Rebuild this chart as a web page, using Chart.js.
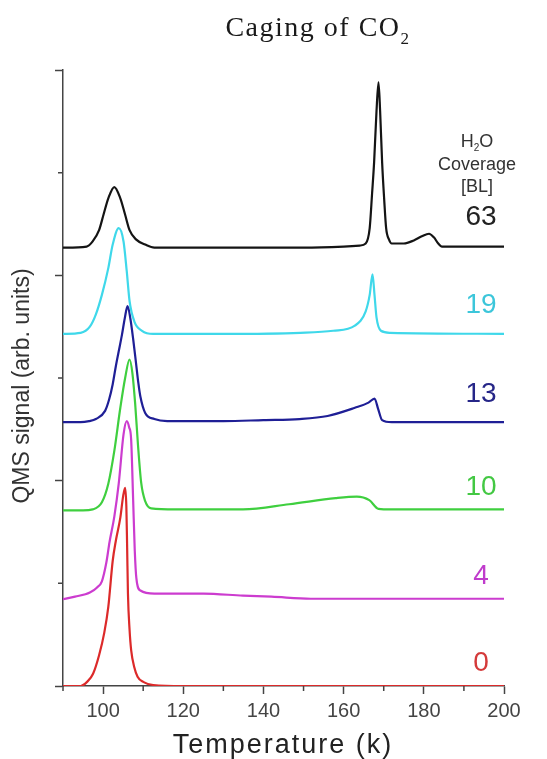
<!DOCTYPE html>
<html>
<head>
<meta charset="utf-8">
<title>Caging of CO2</title>
<script src="https://cdn.jsdelivr.net/npm/chart.js@4.4.1/dist/chart.umd.min.js"></script>
<style>
  html, body { margin: 0; padding: 0; background: #fff; }
  #wrap { position: relative; width: 547px; height: 759px; }
</style>
</head>
<body>
<div id="wrap"><canvas id="tpd" width="547" height="759"></canvas></div>
<script>
// ─── DATA ────────────────────────────────────────────────
// TPD traces of CO2 under a water overlayer, offset vertically per coverage
const coverages = ['63', '19', '13', '10', '4', '0'];
const xTickLabels = [100, 120, 140, 160, 180, 200];

const temps63  = [90, 95.9, 97.4, 99, 100.1, 101.3, 102.8, 104.3, 105.5, 106.6, 108.2, 110.5, 112.8, 130, 150, 160, 164, 165.5, 166.5, 167.1, 167.6, 168.2, 168.7, 169.1, 169.6, 170.1, 170.6, 171.3, 172, 175, 177.5, 179.5, 181.3, 182.5, 183.6, 184.5, 200];
const signal63 = [4.27, 4.28, 4.33, 4.44, 4.59, 4.75, 4.86, 4.75, 4.59, 4.44, 4.35, 4.30, 4.27, 4.27, 4.27, 4.28, 4.29, 4.31, 4.46, 4.80, 5.10, 5.60, 5.88, 5.60, 5.10, 4.75, 4.46, 4.35, 4.31, 4.31, 4.34, 4.38, 4.405, 4.37, 4.31, 4.28, 4.28];

const temps19  = [90, 94.4, 96.7, 98.2, 99.7, 101.3, 102.4, 103.9, 105.1, 105.9, 106.6, 107.8, 109.7, 112.5, 130, 149.2, 157.4, 162.8, 165.5, 166.5, 167.2, 167.7, 168.2, 169.3, 171.6, 200];
const signal19 = [3.43, 3.44, 3.50, 3.62, 3.81, 4.07, 4.30, 4.46, 4.33, 4.04, 3.75, 3.55, 3.46, 3.43, 3.43, 3.44, 3.46, 3.51, 3.65, 3.81, 4.01, 3.81, 3.59, 3.46, 3.44, 3.43];

const temps13  = [90, 94.4, 96.5, 98.2, 100.5, 101.5, 102.4, 103.2, 103.9, 104.7, 105.4, 106.1, 106.8, 107.5, 108.2, 108.8, 109.3, 110.5, 112.8, 116, 130, 140, 149, 156, 162.8, 166.2, 167.7, 168.6, 169.6, 172, 200];
const signal13 = [2.57, 2.57, 2.58, 2.60, 2.68, 2.79, 2.94, 3.12, 3.26, 3.42, 3.58, 3.70, 3.58, 3.38, 3.15, 2.95, 2.82, 2.66, 2.60, 2.58, 2.58, 2.59, 2.60, 2.63, 2.71, 2.76, 2.80, 2.70, 2.59, 2.57, 2.57];

const temps10  = [90, 95, 97.4, 99.7, 101.3, 102.8, 104.3, 105.5, 106.6, 107.3, 108, 108.7, 109.5, 110.5, 112, 118, 134.9, 146.4, 158, 163.3, 166.4, 168.7, 171.8, 200];
const signal10 = [1.71, 1.71, 1.72, 1.79, 1.97, 2.29, 2.71, 3.00, 3.18, 3.05, 2.75, 2.35, 1.98, 1.80, 1.73, 1.72, 1.72, 1.77, 1.83, 1.845, 1.81, 1.725, 1.72, 1.72];

const temps4   = [90, 93, 96.7, 98.5, 99.7, 100.8, 101.6, 102.8, 103.9, 105.1, 105.9, 106.5, 107, 107.5, 107.9, 108.3, 109.3, 112.8, 125, 134.9, 142, 151.8, 200];
const signal4  = [0.845, 0.87, 0.91, 0.96, 1.02, 1.20, 1.40, 1.65, 1.97, 2.45, 2.58, 2.52, 2.40, 1.81, 1.32, 1.05, 0.93, 0.90, 0.90, 0.88, 0.87, 0.85, 0.85];

const temps0   = [90, 94.4, 96, 97.5, 99, 100.3, 101.3, 102.4, 103.2, 104.3, 105, 105.5, 105.8, 106, 106.2, 106.6, 107, 107.8, 108.6, 110, 112.5, 120, 200];
const signal0  = [0, 0, 0.04, 0.12, 0.30, 0.52, 0.77, 1.22, 1.42, 1.64, 1.85, 1.93, 1.75, 1.35, 0.90, 0.55, 0.35, 0.18, 0.09, 0.04, 0.01, 0, 0];

// ─── STYLE ───────────────────────────────────────────────
const lineColors  = ['#141414', '#3fd8ea', '#1f1f96', '#3fcf3f', '#cc3ccf', '#dc2a2a'];
const labelColors = ['#222222', '#3cc6da', '#262688', '#43c843', '#c03ccc', '#d43a3a'];
const labelLift   = [22, 21, 20, 14, 15, 15];
const SANS  = '"Liberation Sans", Arial, sans-serif';
const SERIF = '"Liberation Serif", "Times New Roman", serif';
const AXIS  = '#444';

// ─── UTILS ───────────────────────────────────────────────
function toPoints(t, s) {
  return t.map((x, i) => ({ x, y: s[i] }));
}

// text drawn piece by piece so a subscript can sit below the baseline
function drawParts(ctx, parts, cx, y) {
  let w = 0;
  parts.forEach(p => { ctx.font = p.font; w += ctx.measureText(p.text).width; });
  let x = cx - w / 2;
  parts.forEach(p => {
    ctx.font = p.font;
    ctx.fillText(p.text, x, y + (p.dy || 0));
    x += ctx.measureText(p.text).width;
  });
}

const traces = [
  [temps63, signal63], [temps19, signal19], [temps13, signal13],
  [temps10, signal10], [temps4, signal4], [temps0, signal0]
];

// ─── LABELS + MINOR TICKS ────────────────────────────────
const tpdText = {
  id: 'tpdText',
  afterDraw(chart) {
    const { ctx, chartArea: a, scales: { x, y } } = chart;
    ctx.save();

    // short minor ticks
    ctx.strokeStyle = AXIS;
    ctx.lineWidth = 1.5;
    ctx.beginPath();
    for (let v = 90; v <= 200; v += 20) {
      const px = x.getPixelForValue(v);
      ctx.moveTo(px, a.bottom); ctx.lineTo(px, a.bottom + 5);
    }
    for (let v = 1; v <= 5; v += 2) {
      const py = y.getPixelForValue(v);
      ctx.moveTo(a.left - 5, py); ctx.lineTo(a.left, py);
    }
    ctx.stroke();

    ctx.textAlign = 'left';
    ctx.textBaseline = 'alphabetic';

    // title
    ctx.fillStyle = '#1a1a1a';
    ctx.letterSpacing = '1.5px';
    drawParts(ctx, [
      { text: 'Caging of CO', font: `28px ${SERIF}` },
      { text: '2', font: `17px ${SERIF}`, dy: 8 }
    ], 318, 36);

    // axis titles
    ctx.fillStyle = '#222';
    ctx.letterSpacing = '2px';
    drawParts(ctx, [{ text: 'Temperature (k)', font: `27px ${SANS}` }], 283, 753);

    ctx.save();
    ctx.translate(21, 386);
    ctx.rotate(-Math.PI / 2);
    ctx.letterSpacing = '0px';
    ctx.fillStyle = '#333';
    drawParts(ctx, [{ text: 'QMS signal (arb. units)', font: `23px ${SANS}` }], 0, 8);
    ctx.restore();

    // coverage labels at the right end of each trace
    ctx.letterSpacing = '0px';
    const labelX = 481;
    let top63 = 0;
    coverages.forEach((c, i) => {
      const s = traces[i][1];
      const by = y.getPixelForValue(s[s.length - 1]) - labelLift[i];
      if (i === 0) top63 = by;
      ctx.fillStyle = labelColors[i];
      drawParts(ctx, [{ text: c, font: `28px ${SANS}` }], labelX, by);
    });

    ctx.fillStyle = '#333';
    drawParts(ctx, [
      { text: 'H', font: `18px ${SANS}` },
      { text: '2', font: `10px ${SANS}`, dy: 4 },
      { text: 'O', font: `18px ${SANS}` }
    ], 477, top63 - 78);
    drawParts(ctx, [{ text: 'Coverage', font: `18px ${SANS}` }], 477, top63 - 55);
    drawParts(ctx, [{ text: '[BL]', font: `18px ${SANS}` }], 477, top63 - 33);

    ctx.restore();
  }
};

// ─── CHART ───────────────────────────────────────────────
new Chart(document.getElementById('tpd'), {
  type: 'line',
  data: {
    datasets: traces.map(([t, s], i) => ({
      label: coverages[i],
      data: toPoints(t, s),
      borderColor: lineColors[i],
      borderWidth: 2.2,
      pointRadius: 0,
      cubicInterpolationMode: 'monotone',
      fill: false
    }))
  },
  options: {
    responsive: false,
    animation: false,
    devicePixelRatio: 1,
    layout: { padding: { top: 70, right: 43, left: 0, bottom: 0 } },
    plugins: { legend: { display: false }, tooltip: { enabled: false } },
    scales: {
      x: {
        type: 'linear',
        min: 90,
        max: 200,
        border: { color: AXIS, width: 1.5 },
        grid: {
          drawOnChartArea: false,
          tickLength: 8,
          tickWidth: 1.5,
          tickColor: c => (c.tick && c.tick.value % 20 === 0) ? AXIS : 'rgba(0,0,0,0)'
        },
        ticks: {
          stepSize: 10,
          autoSkip: false,
          maxRotation: 0,
          padding: 5,
          color: '#444',
          font: { family: SANS, size: 20 },
          callback: v => xTickLabels.includes(v) ? String(v) : ''
        },
        afterFit: s => { s.height = 73; s.paddingLeft = 0; s.paddingRight = 0; }
      },
      y: {
        min: 0,
        max: 6,
        border: { color: AXIS, width: 1.5 },
        grid: {
          drawOnChartArea: false,
          tickLength: 8,
          tickWidth: 1.5,
          tickColor: c => (c.tick && c.tick.value % 2 === 0) ? AXIS : 'rgba(0,0,0,0)'
        },
        ticks: { stepSize: 1, display: false },
        afterFit: s => { s.width = 63; s.paddingTop = 0; s.paddingBottom = 0; }
      }
    }
  },
  plugins: [tpdText]
});
</script>
</body>
</html>
